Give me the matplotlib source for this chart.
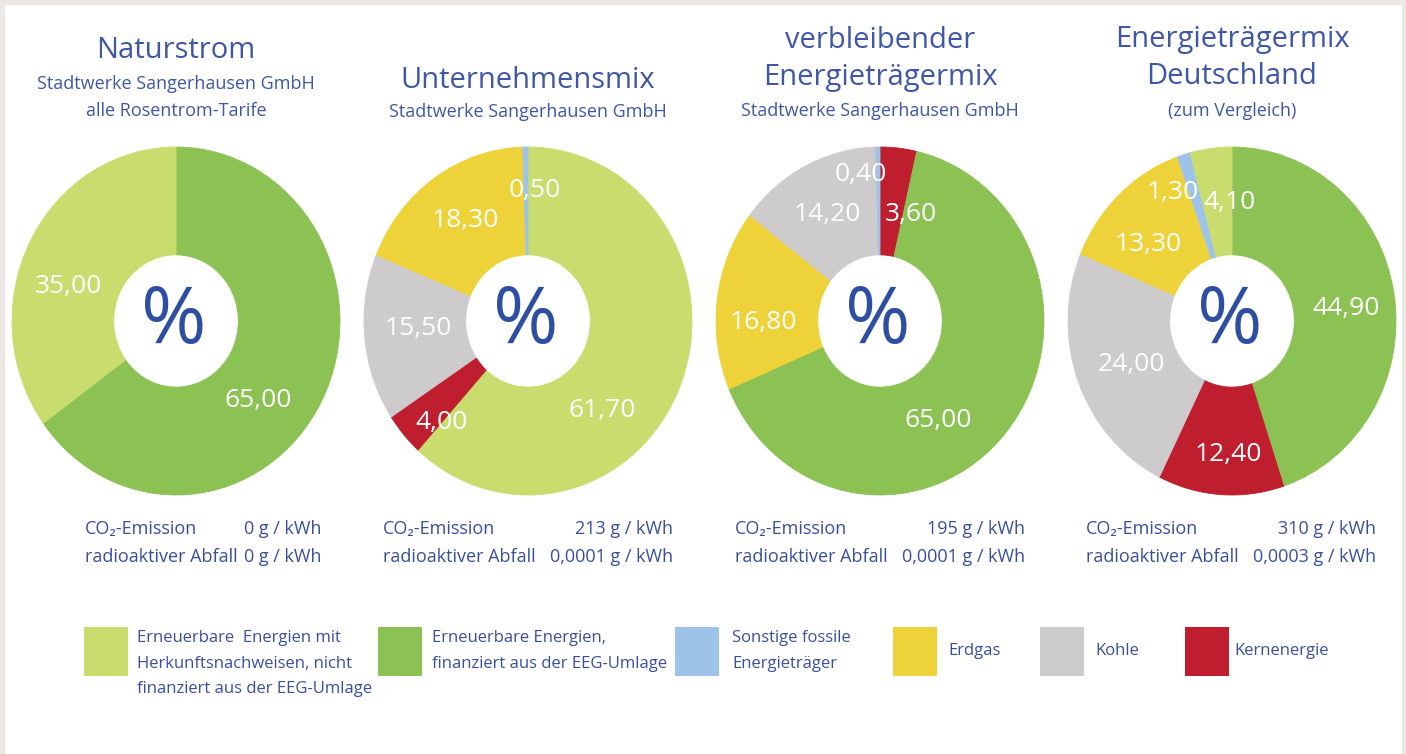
import matplotlib.pyplot as plt
from matplotlib.patches import Rectangle

plt.rcParams['font.family'] = ['Open Sans', 'DejaVu Sans']

W, H = 1406, 754

# --- data ---
categories = ['hkn', 'eeg', 'sonstige', 'erdgas', 'kohle', 'kern']
legend_labels = ['Erneuerbare  Energien mit\nHerkunftsnachweisen, nicht\nfinanziert aus der EEG-Umlage',
                 'Erneuerbare Energien,\nfinanziert aus der EEG-Umlage',
                 'Sonstige fossile\nEnergieträger',
                 'Erdgas',
                 'Kohle',
                 'Kernenergie']
cat_colors = {'hkn': '#c9dd6f', 'eeg': '#8cc153', 'sonstige': '#9ec3e8',
              'erdgas': '#eed23a', 'kohle': '#cdcbcb', 'kern': '#be1e2d'}

# slices in clockwise order, starting at 12 o'clock
naturstrom_cats = ['eeg', 'hkn']
naturstrom_vals = [65.00, 35.00]
unternehmen_cats = ['hkn', 'kern', 'kohle', 'erdgas', 'sonstige']
unternehmen_vals = [61.70, 4.00, 15.50, 18.30, 0.50]
rest_cats = ['kern', 'eeg', 'erdgas', 'kohle', 'sonstige']
rest_vals = [3.60, 65.00, 16.80, 14.20, 0.40]
de_cats = ['eeg', 'kern', 'kohle', 'erdgas', 'sonstige', 'hkn']
de_vals = [44.90, 12.40, 24.00, 13.30, 1.30, 4.10]

pies = [(naturstrom_cats, naturstrom_vals), (unternehmen_cats, unternehmen_vals),
        (rest_cats, rest_vals), (de_cats, de_vals)]

titles = [['Naturstrom'], ['Unternehmensmix'], ['verbleibender', 'Energieträgermix'],
          ['Energieträgermix', 'Deutschland']]
subtitles = [['Stadtwerke Sangerhausen GmbH', 'alle Rosentrom-Tarife'],
             ['Stadtwerke Sangerhausen GmbH'],
             ['Stadtwerke Sangerhausen GmbH'],
             ['(zum Vergleich)']]

co2_values = ['0', '213', '195', '310']
waste_values = ['0', '0,0001', '0,0001', '0,0003']

# --- layout (pixels) ---
pie_cx = [176, 528, 880, 1232]
pie_cy = 321
hw, hh = 164, 174
label_pos = [[(258, 400), (68, 287)],
             [(602, 411), (441, 423), (418, 329), (465, 221), (535, 190)],
             [(911, 214), (938, 420), (763, 323), (827, 214), (861, 174)],
             [(1346, 309), (1228, 454), (1131, 364), (1148, 244), (1173, 193), (1229, 203)]]
title_y = [[51], [80], [40, 78], [40, 77]]
sub_y = [[84, 111], [112], [111], [111]]
info_left = [85, 383, 735, 1086]
info_right = [321, 673, 1025, 1376]
legend_x = [84, 378, 675, 893, 1040, 1185]
legend_tx = [137, 432, 732, 948, 1095, 1234]

title_c = '#3f57a6'
text_c = '#3a4f9c'
pct_c = '#2d4ea3'

fig = plt.figure(figsize=(W / 100, H / 100), dpi=100, facecolor='#ebe8e5')

bg = fig.add_axes([0, 0, 1, 1], zorder=0)
bg.set_xlim(0, W)
bg.set_ylim(H, 0)
bg.axis('off')
bg.add_patch(Rectangle((5, 5), W - 9, H - 4, facecolor='white', edgecolor='none'))

for i, (cats, vals) in enumerate(pies):
    cx = pie_cx[i]
    ax = fig.add_axes([(cx - hw) / W, 1 - (pie_cy + hh) / H, 2 * hw / W, 2 * hh / H], zorder=1)
    wedges, _ = ax.pie(vals, colors=[cat_colors[c] for c in cats], startangle=90,
                       counterclock=False, radius=1,
                       wedgeprops=dict(width=0.62, linewidth=0.6))
    for w in wedges:
        w.set_edgecolor(w.get_facecolor())
    ax.set_aspect('auto')
    ax.set_xlim(-1, 1)
    ax.set_ylim(-1, 1)
    ax.axis('off')

fg = fig.add_axes([0, 0, 1, 1], zorder=2)
fg.set_xlim(0, W)
fg.set_ylim(H, 0)
fg.axis('off')
fg.patch.set_alpha(0)

for i, (cats, vals) in enumerate(pies):
    cx = pie_cx[i]
    for v, (px, py) in zip(vals, label_pos[i]):
        fg.text(px, py, f'{v:.2f}'.replace('.', ','), color='white', fontsize=19,
                ha='center', va='center')
    fg.text(cx - 2, pie_cy + 1, '%', color=pct_c, fontsize=57, ha='center', va='center')
    for t, y in zip(titles[i], title_y[i]):
        fg.text(cx, y, t, color=title_c, fontsize=21, ha='center', va='center')
    for t, y in zip(subtitles[i], sub_y[i]):
        fg.text(cx, y, t, color=title_c, fontsize=13, ha='center', va='center')
    fg.text(info_left[i], 529, 'CO₂-Emission', color=text_c, fontsize=13, va='center')
    fg.text(info_left[i], 557, 'radioaktiver Abfall', color=text_c, fontsize=13, va='center')
    fg.text(info_right[i], 529, f'{co2_values[i]} g / kWh', color=text_c, fontsize=13,
            ha='right', va='center')
    fg.text(info_right[i], 557, f'{waste_values[i]} g / kWh', color=text_c, fontsize=13,
            ha='right', va='center')

# legend
for j, cat in enumerate(categories):
    fg.add_patch(Rectangle((legend_x[j], 627), 44, 49, facecolor=cat_colors[cat], edgecolor='none'))
    lines = legend_labels[j].split('\n')
    for k, line in enumerate(lines):
        yy = 651 if len(lines) == 1 else 638 + 25.5 * k
        fg.text(legend_tx[j], yy, line, color=text_c, fontsize=12, va='center')

fig.savefig('out.png', dpi=100, facecolor=fig.get_facecolor())
